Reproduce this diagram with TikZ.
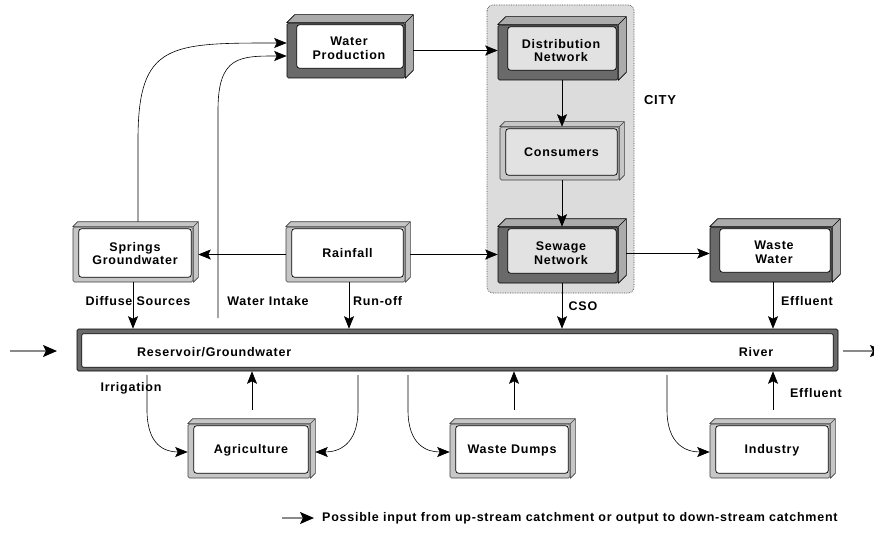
\documentclass[tikz,border=0pt]{standalone}
\usepackage{fontspec}
\setmainfont{Liberation Sans}[LetterSpace=6]
\usetikzlibrary{arrows.meta,calc}
\definecolor{dkface}{HTML}{6A6A6A}
\definecolor{dkside}{HTML}{ABABAB}
\definecolor{ltface}{HTML}{C6C6C6}
\definecolor{cityfill}{HTML}{DCDCDC}
\definecolor{cpanel}{HTML}{E2E2E2}
\definecolor{sideline}{HTML}{8A8A8A}
\tikzset{
  lbl/.style={font=\bfseries\fontsize{12.5}{13.5}\selectfont, align=center, inner sep=0pt},
  dkfront/.style={draw=black, fill=dkface, line width=0.6pt, rounded corners=1.5pt, inner sep=0pt},
  dksidef/.style={draw=black, fill=dkside, line width=0.6pt, line join=round},
  ltfront/.style={draw=black!75, fill=ltface, line width=0.6pt, rounded corners=1.5pt, inner sep=0pt},
  ltsidef/.style={draw=black!75, fill=ltface, line width=0.6pt, line join=round},
  panel/.style={draw=black, line width=0.7pt, rounded corners=3pt},
  arr/.style={-{Stealth[length=12.5pt,width=10pt,inset=2.5pt]}, line width=0.6pt},
  sidearr/.style={draw=sideline, line width=1.3pt, -{Stealth[length=14pt,width=12pt,inset=3pt,color=black]}},
}
% dark cube: name, cx, cy, w, h, panel colour, text
\newcommand\dkcube[7]{%
  \node[dkfront, minimum width=#4pt, minimum height=#5pt] (#1) at (#2,#3) {};
  \draw[dksidef] (#1.north west) -- ++(8,-8) -- ($(#1.north east)+(8,-8)$) -- ($(#1.south east)+(8,-8)$) -- (#1.south east) -- (#1.north east) -- cycle;
  \draw[dksidef] (#1.north east) -- ++(8,-8);
  \draw[panel, fill=#6] ($(#1.north west)+(10,2)$) rectangle ($(#1.south east)+(-2,-10)$);
  \node[lbl] at ($(#1.center)+(3,-2)$) {#7};
}
% light cube
\newcommand\ltcube[7]{%
  \node[ltfront, minimum width=#4pt, minimum height=#5pt] (#1) at (#2,#3) {};
  \draw[ltsidef] (#1.north west) -- ++(5,-5) -- ($(#1.north east)+(5,-5)$) -- ($(#1.south east)+(5,-5)$) -- (#1.south east) -- (#1.north east) -- cycle;
  \draw[ltsidef] (#1.north east) -- ++(5,-5);
  \draw[panel, fill=#6] ($(#1.north west)+(6,2)$) rectangle ($(#1.south east)+(-2,-5)$);
  \node[lbl] at ($(#1.center)+(2,-1)$) {#7};
}
\begin{document}
\begin{tikzpicture}[x=1pt,y=-1pt]
\useasboundingbox[fill=white] (0,0) rectangle (874,556);
% city
\draw[densely dotted, draw=black!70, fill=cityfill, rounded corners=6pt, line width=0.7pt] (487,5) rectangle (634,293);
\node[lbl, font=\bfseries\fontsize{13}{14}\selectfont] (city) at (660,100) {CITY};
% boxes
\dkcube{wp}{346}{50.5}{118}{55}{white}{Water\\Production}
\dkcube{dn}{558}{52.5}{120}{55}{cpanel}{Distribution\\Network}
\dkcube{sew}{558}{255}{120}{56}{cpanel}{Sewage\\Network}
\dkcube{ww}{771}{254.5}{122}{55}{white}{Waste\\Water}
\ltcube{cons}{559.5}{153.5}{119}{53}{cpanel}{Consumers}
\ltcube{sg}{133}{254.5}{120}{55}{white}{Springs\\Groundwater}
\ltcube{rain}{345.5}{254.5}{119}{55}{white}{Rainfall}
\ltcube{ag}{249}{451}{122}{54}{white}{Agriculture}
\ltcube{wd}{510}{451}{120}{54}{white}{Waste Dumps}
\ltcube{ind}{770}{451}{120}{54}{white}{Industry}
% reservoir / river bar
\node[dkfront, minimum width=761pt, minimum height=42pt] (res) at (457.5,350) {};
\draw[panel, fill=white, rounded corners=2pt] ($(res.north west)+(5,5)$) rectangle ($(res.south east)+(-5,-4)$);
\node[lbl, anchor=west] (rgw) at (137,352) {Reservoir/Groundwater};
\node[lbl] (river) at (756,352) {River};
% connectors in the city and top row
\coordinate (a1) at ([xshift=8pt]wp.east);
\draw[arr] (a1) -- (a1 -| dn.west);
\coordinate (a2) at ([xshift=4pt]dn.south);
\draw[arr] (a2) -- (a2 |- cons.north);
\coordinate (a3) at ([xshift=2.5pt]cons.south);
\draw[arr] (a3) -- (a3 |- sew.north);
\coordinate (a4) at ([xshift=8pt,yshift=1.5pt]sew.east);
\draw[arr] (a4) -- (a4 -| ww.west);
\coordinate (a5) at ([xshift=5pt]rain.east);
\draw[arr] (a5) -- (a5 -| sew.west);
\draw[arr] (rain.west) -- ([xshift=5pt]sg.east);
% springs -> water production
\draw[arr] ([xshift=5pt,yshift=5pt]sg.north) -- ++(0,-82) .. controls +(0,-97) and +(-117,0) .. ([yshift=7.5pt]wp.west);
% water intake
\coordinate (wi) at (218,318);
\draw[arr] (wi) -- ++(0,-208) .. controls +(0,-54) and +(-47,0) .. ([yshift=-5.5pt]wp.west);
% into the reservoir
\draw[arr] (sg.south) -- (sg.south |- res.north);
\coordinate (ro) at ([xshift=3.5pt]rain.south);
\draw[arr] (ro) -- (ro |- res.north);
\coordinate (cso) at ([xshift=4pt]sew.south);
\draw[arr] (cso) -- (cso |- res.north);
\coordinate (ef) at ([xshift=2pt]ww.south);
\draw[arr] (ef) -- (ef |- res.north);
\node[lbl] (ldiff) at (138,301) {Diffuse Sources};
\node[lbl] (lwi) at (268,301) {Water Intake};
\node[lbl, anchor=west] (lro) at (353,301) {Run-off};
\node[lbl] (lcso) at (583,306) {CSO};
\node[lbl] (lef1) at (807,301) {Effluent};
% below the bar
\coordinate (agup) at ([xshift=3pt,yshift=14pt]ag.north);
\draw[arr] (agup) -- (agup |- res.south);
\coordinate (wdup) at ([xshift=4pt,yshift=14pt]wd.north);
\draw[arr] (wdup) -- (wdup |- res.south);
\coordinate (inup) at ([xshift=3pt,yshift=14pt]ind.north);
\draw[arr] (inup) -- (inup |- res.south);
\coordinate (irr) at (147,375);
\coordinate (agr) at (358,375);
\coordinate (wdl) at (408,375);
\coordinate (inl) at (667,375);
\draw[arr] (irr) -- ++(0,35) .. controls +(0,35) and +(-23,0) .. ([yshift=-1pt]ag.west);
\draw[arr] (agr) -- ++(0,35) .. controls +(0,35) and +(23,0) .. ([xshift=5pt,yshift=-1pt]ag.east);
\draw[arr] (wdl) -- ++(0,35) .. controls +(0,35) and +(-23,0) .. ([yshift=-1pt]wd.west);
\draw[arr] (inl) -- ++(0,35) .. controls +(0,35) and +(-23,0) .. ([yshift=-1pt]ind.west);
\node[lbl] (lirr) at (131,388) {Irrigation};
\node[lbl] (lef2) at (816,393) {Effluent};
% catchment in/out
\coordinate (inA) at (10,351);
\coordinate (inB) at (57,351);
\draw[sidearr] (inA) -- (inB);
\coordinate (outA) at (843,351);
\coordinate (outB) at (884,351);
\draw[sidearr] (outA) -- (outB);
% legend
\coordinate (lgA) at (282,518);
\coordinate (lgB) at (314,518);
\draw[sidearr] (lgA) -- (lgB);
\node[lbl, anchor=west] (legend) at (322,518) {Possible input from up-stream catchment or output to down-stream catchment};
\end{tikzpicture}
\end{document}
